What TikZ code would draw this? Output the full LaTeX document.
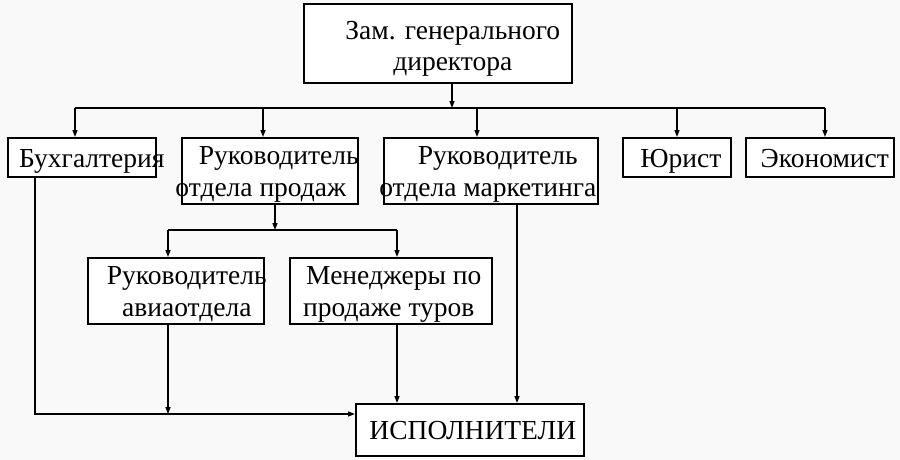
\documentclass[tikz,border=0pt]{standalone}
\usepackage{fontspec}
\setmainfont{Liberation Serif}
\usetikzlibrary{arrows.meta}
\newlength\txtdrop
\setlength\txtdrop{10pt}
\newcommand\zwl[2][0pt]{\makebox[0pt]{\hspace*{#1}\raisebox{-\txtdrop}[0pt][0pt]{#2}}}
\definecolor{bgc}{RGB}{249,249,249}
\begin{document}
\begin{tikzpicture}[x=1pt,y=-1pt,
  box/.style={draw, line width=1.6pt, fill=white, anchor=north west, inner sep=0pt,
    align=center, font=\fontsize{27.5}{32}\selectfont},
  conn/.style={line width=1.4pt},
  arr/.style={line width=1.4pt, -{Triangle[length=7pt,width=5pt]}}]
\useasboundingbox (0,0) rectangle (900,460);
\fill[bgc] (0,0) rectangle (900,460);
% boxes
\node[box, minimum width=268pt, minimum height=79pt] (top) at (303,3)
  {\setlength\txtdrop{12pt}\zwl[30pt]{Зам. генерального}\\[-1pt]\setlength\txtdrop{12pt}\zwl[30pt]{директора}};
\node[box, minimum width=148pt, minimum height=39pt] (buh) at (7,137) {\zwl[20pt]{Бухгалтерия}};
\node[box, minimum width=176pt, minimum height=66pt] (prod) at (181,137)
  {\zwl[18pt]{Руководитель}\\\zwl[-18pt]{отдела продаж}};
\node[box, minimum width=214pt, minimum height=66pt] (mark) at (383,137)
  {\zwl[14pt]{Руководитель}\\\zwl[-6pt]{отдела маркетинга}};
\node[box, minimum width=108pt, minimum height=39pt] (yur) at (622,137) {\zwl[8pt]{Юрист}};
\node[box, minimum width=148pt, minimum height=39pt] (eco) at (745,137) {\zwl[10pt]{Экономист}};
\node[box, minimum width=176pt, minimum height=66pt] (avia) at (87,257)
  {\zwl[22pt]{Руководитель}\\\zwl[22pt]{авиаотдела}};
\node[box, minimum width=202pt, minimum height=66pt] (men) at (289,257)
  {\zwl[6pt]{Менеджеры по}\\\zwl[-4pt]{продаже туров}};
\node[box, minimum width=228pt, minimum height=52pt] (isp) at (355,403) {\zwl[6pt]{ИСПОЛНИТЕЛИ}};
% junction coordinates
\coordinate (j0) at (452,108);
\coordinate (jB) at (75,108);
\coordinate (jP) at (263,108);
\coordinate (jM) at (477,108);
\coordinate (jU) at (677,108);
\coordinate (jE) at (825,108);
\coordinate (k0) at (275,230);
\coordinate (kA) at (168,230);
\coordinate (kM) at (397,230);
\coordinate (cL) at (35,414);
\coordinate (cA) at (168,414);
\coordinate (xm) at (517,0);
% top level
\draw[arr] (top.south -| j0) -- (j0);
\draw[conn] (jB) -- (jE);
\draw[arr] (jB) -- (buh.north -| jB);
\draw[arr] (jP) -- (prod.north -| jP);
\draw[arr] (jM) -- (mark.north -| jM);
\draw[arr] (jU) -- (yur.north -| jU);
\draw[arr] (jE) -- (eco.north -| jE);
% sales branch
\draw[arr] (prod.south -| k0) -- (k0);
\draw[conn] (kA) -- (kM);
\draw[arr] (kA) -- (avia.north -| kA);
\draw[arr] (kM) -- (men.north -| kM);
% to executors
\draw[arr] (buh.south -| cL) -- (cL) -- (isp.west |- cL);
\draw[arr] (avia.south -| cA) -- (cA);
\draw[arr] (men.south -| kM) -- (isp.north -| kM);
\draw[arr] (mark.south -| xm) -- (isp.north -| xm);
\end{tikzpicture}
\end{document}
